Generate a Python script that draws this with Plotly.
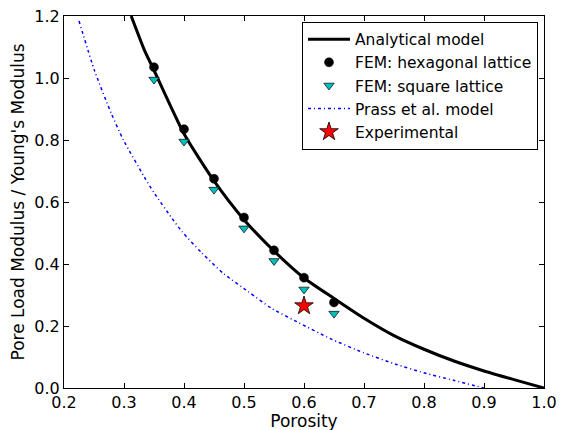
import plotly.graph_objects as go

# Analytical model
ana_x = [0.312, 0.334, 0.35, 0.40, 0.45, 0.50, 0.55, 0.60, 0.65, 0.70, 0.75, 0.80, 0.85, 0.90, 0.95, 1.00]
ana_y = [1.200, 1.090, 1.025, 0.820, 0.668, 0.543, 0.442, 0.355, 0.289, 0.225, 0.169, 0.125, 0.087, 0.055, 0.027, 0.000]

# FEM hexagonal lattice
hex_x = [0.35, 0.40, 0.45, 0.50, 0.55, 0.60, 0.65]
hex_y = [1.035, 0.835, 0.675, 0.550, 0.444, 0.356, 0.276]

# FEM square lattice
sq_x = [0.35, 0.40, 0.45, 0.50, 0.55, 0.60, 0.65]
sq_y = [0.995, 0.795, 0.640, 0.515, 0.410, 0.318, 0.240]

# Prass et al. model
prass_x = [0.225, 0.251, 0.279, 0.299, 0.334, 0.35, 0.379, 0.396, 0.429, 0.466, 0.507, 0.546, 0.591, 0.643, 0.699, 0.754, 0.800, 0.849, 0.900]
prass_y = [1.184, 1.023, 0.885, 0.800, 0.680, 0.630, 0.550, 0.506, 0.437, 0.369, 0.311, 0.257, 0.211, 0.160, 0.114, 0.076, 0.049, 0.025, 0.000]

# Experimental
exp_x = [0.60]
exp_y = [0.265]

x_ticks = [0.2, 0.3, 0.4, 0.5, 0.6, 0.7, 0.8, 0.9, 1.0]
y_ticks = [0.0, 0.2, 0.4, 0.6, 0.8, 1.0, 1.2]

FONT = "DejaVu Sans"

fig = go.Figure()
fig.add_trace(go.Scatter(x=ana_x, y=ana_y, mode="lines", name="Analytical model",
                         line=dict(color="black", width=3, shape="spline", smoothing=0.6)))
fig.add_trace(go.Scatter(x=hex_x, y=hex_y, mode="markers", name="FEM: hexagonal lattice",
                         marker=dict(symbol="circle", size=9, color="black",
                                     line=dict(color="black", width=0.5))))
fig.add_trace(go.Scatter(x=sq_x, y=sq_y, mode="markers", name="FEM: square lattice",
                         marker=dict(symbol="triangle-down", size=9, color="#00bfbf",
                                     line=dict(color="black", width=0.7))))
fig.add_trace(go.Scatter(x=prass_x, y=prass_y, mode="lines", name="Prass et al. model",
                         line=dict(color="blue", width=1.5, dash="3px,3px,1px,3px",
                                   shape="spline", smoothing=0.6)))
fig.add_trace(go.Scatter(x=exp_x, y=exp_y, mode="markers", name="Experimental",
                         marker=dict(symbol="star", size=14, color="red",
                                     line=dict(color="black", width=0.8))))

axis_common = dict(
    showgrid=False, zeroline=False, showline=True, linecolor="black", linewidth=1,
    mirror="ticks", ticks="inside", ticklen=5, tickwidth=1, tickcolor="black",
    tickfont=dict(family=FONT, size=16, color="black"), automargin=False,
    ticklabeloverflow="allow",
)

fig.update_layout(
    width=557, height=423,
    margin=dict(l=56, r=21, t=8, b=43, pad=0),
    paper_bgcolor="white", plot_bgcolor="white",
    font=dict(family=FONT, size=16, color="black"),
    showlegend=True,
    legend=dict(x=0.9875, y=0.985, xanchor="right", yanchor="top",
                bordercolor="black", borderwidth=1, bgcolor="white",
                font=dict(family=FONT, size=15.5, color="black"),
                tracegroupgap=0, itemwidth=42),
    xaxis=dict(range=[0.2, 1.0], tickvals=x_ticks, ticktext=[f"{v:.1f}" for v in x_ticks],
               title=dict(text="Porosity", font=dict(family=FONT, size=17), standoff=6),
               **axis_common),
    yaxis=dict(range=[0.0, 1.2], tickvals=y_ticks, ticktext=[f"{v:.1f}" for v in y_ticks],
               title=dict(text="Pore Load Modulus / Young's Modulus", font=dict(family=FONT, size=17), standoff=8),
               **axis_common),
)

fig.write_html("out.html")
